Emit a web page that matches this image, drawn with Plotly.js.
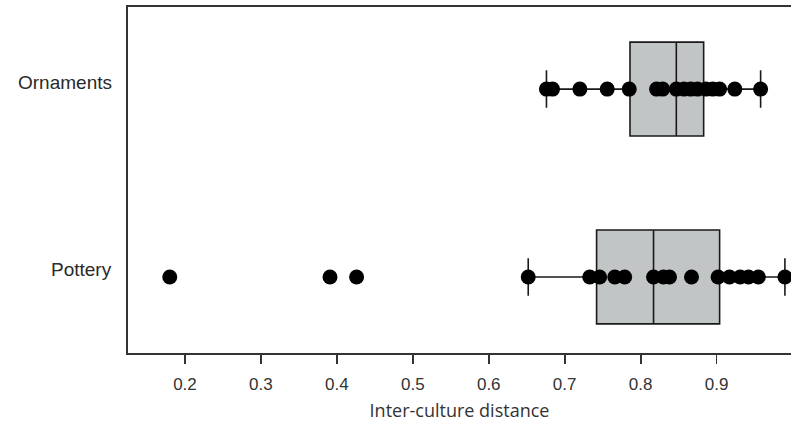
<!DOCTYPE html>
<html>
<head>
<meta charset="utf-8">
<script src="https://cdn.plot.ly/plotly-3.0.1.min.js"></script>
<style>html,body{margin:0;padding:0;background:#fff;}#chart{width:791px;height:429px;}</style>
</head>
<body>
<div id="chart"></div>
<script>
// Categories
var categories = ['Ornaments', 'Pottery'];

// Box statistics
var q1Values = [0.786, 0.742];
var medianValues = [0.847, 0.817];
var q3Values = [0.883, 0.904];
var lowerFences = [0.676, 0.652];
var upperFences = [0.958, 0.990];

// Individual observations
var ornamentsPoints = [0.676, 0.684, 0.720, 0.756, 0.785, 0.821, 0.829, 0.847, 0.857, 0.866, 0.875, 0.886, 0.895, 0.904, 0.924, 0.958];
var potteryPoints = [0.180, 0.391, 0.426, 0.652, 0.733, 0.746, 0.766, 0.779, 0.817, 0.830, 0.838, 0.867, 0.902, 0.917, 0.931, 0.942, 0.955, 0.990];

// Tick values / labels
var xTickVals = [0.2, 0.3, 0.4, 0.5, 0.6, 0.7, 0.8, 0.9];
var xTickText = ['0.2', '0.3', '0.4', '0.5', '0.6', '0.7', '0.8', '0.9'];

var boxTrace = {
  type: 'box',
  orientation: 'h',
  y: categories,
  q1: q1Values,
  median: medianValues,
  q3: q3Values,
  lowerfence: lowerFences,
  upperfence: upperFences,
  boxpoints: false,
  width: 0.5,
  whiskerwidth: 0.4,
  fillcolor: '#c1c5c5',
  line: {color: '#1a1a1a', width: 1.6},
  hoverinfo: 'skip',
  showlegend: false
};

function repeatCat(name, arr) { return arr.map(function () { return name; }); }

var pointsTrace = {
  type: 'scatter',
  mode: 'markers',
  x: ornamentsPoints.concat(potteryPoints),
  y: repeatCat('Ornaments', ornamentsPoints).concat(repeatCat('Pottery', potteryPoints)),
  marker: {color: '#000000', size: 15, line: {width: 0}},
  hoverinfo: 'x',
  showlegend: false
};

// Category labels (slightly raised above the row, as in the original)
var categoryLabels = categories.map(function (c) {
  return {
    text: c, xref: 'paper', x: 0, xanchor: 'right', xshift: -14,
    yref: 'y', y: c, yanchor: 'middle', yshift: 7,
    showarrow: false,
    font: {family: 'Arial', size: 19, color: '#2a2a2a'}
  };
});

var layout = {
  width: 791,
  height: 429,
  margin: {l: 128, r: 0, t: 7, b: 76},
  paper_bgcolor: '#ffffff',
  plot_bgcolor: '#ffffff',
  showlegend: false,
  annotations: categoryLabels,
  xaxis: {
    range: [0.125, 0.998],
    tickmode: 'array',
    tickvals: xTickVals,
    ticktext: xTickText,
    ticks: 'outside',
    ticklen: 9,
    tickwidth: 1.8,
    tickcolor: '#333333',
    showgrid: false,
    zeroline: false,
    showline: true,
    linewidth: 2,
    linecolor: '#333333',
    mirror: true,
    ticklabelstandoff: 6,
    tickfont: {family: 'Arial', size: 17, color: '#333333'},
    title: {text: 'Inter-culture distance', font: {family: 'Open Sans', size: 18, color: '#333333'}, standoff: 11}
  },
  yaxis: {
    type: 'category',
    categoryorder: 'array',
    categoryarray: ['Pottery', 'Ornaments'],
    range: [-0.405, 1.437],
    ticks: '',
    showticklabels: false,
    showgrid: false,
    zeroline: false,
    showline: true,
    linewidth: 2,
    linecolor: '#333333'
  }
};

Plotly.newPlot('chart', [boxTrace, pointsTrace], layout, {displayModeBar: false, staticPlot: true});
</script>
</body>
</html>
